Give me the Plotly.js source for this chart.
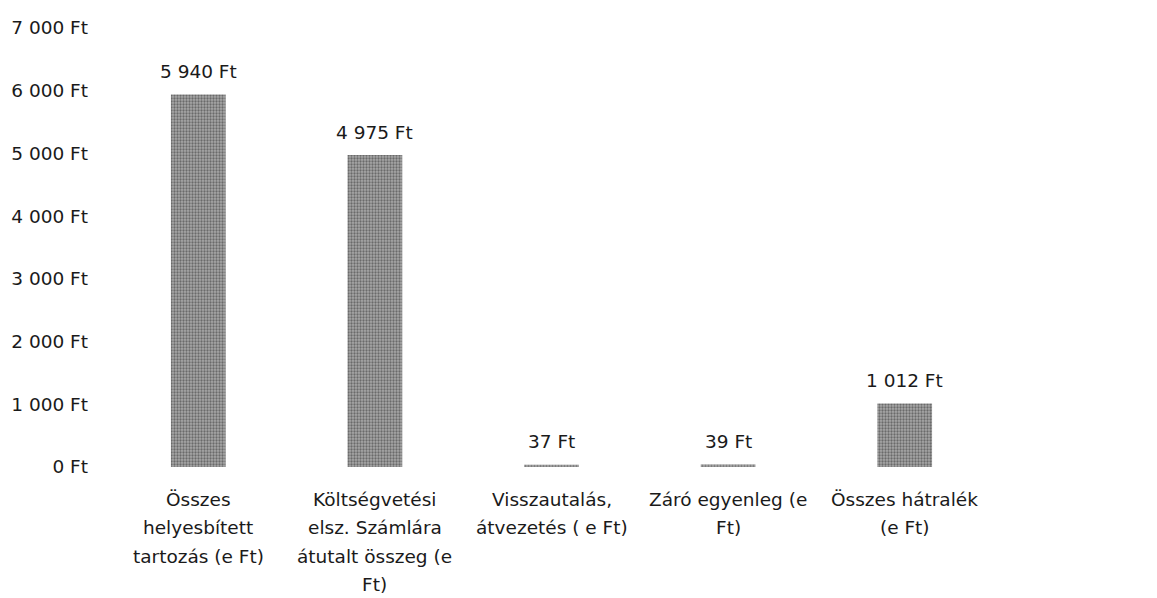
<!DOCTYPE html>
<html><head><meta charset="utf-8">
<script src="https://cdn.plot.ly/plotly-3.0.1.min.js"></script>
<style>body{margin:0;background:#fff}#c{width:1157px;height:598px}</style>
</head><body><div id="c"></div>
<script>
const categoryLines = [
  ["Összes", "helyesbített", "tartozás (e Ft)"],
  ["Költségvetési", "elsz. Számlára", "átutalt összeg (e", "Ft)"],
  ["Visszautalás,", "átvezetés ( e Ft)"],
  ["Záró egyenleg (e", "Ft)"],
  ["Összes hátralék", "(e Ft)"]
];
const categories = categoryLines.map(l => l.join(' '));
const values = [5940, 4975, 37, 39, 1012];
const tickVals = [0, 1000, 2000, 3000, 4000, 5000, 6000, 7000];

const fontFam = "'DejaVu Sans', Verdana, sans-serif";
const txtColor = '#1a1a1a';
const fmt = v => String(v).replace(/\B(?=(\d{3})+(?!\d))/g, ' ') + ' Ft';
const tickText = tickVals.map(fmt);

const data = [{
  type: 'bar',
  x: categories,
  y: values,
  width: 0.31,
  marker: {color: '#8e8e8e', line: {width: 0},
           pattern: {shape: '.', fgcolor: '#6a6a6a', bgcolor: '#a8a8a8', size: 3, solidity: 0.45}},
  hoverinfo: 'none'
}];

const annotations = [];
values.forEach((v, i) => annotations.push({
  x: categories[i], y: v, xref: 'x', yref: 'y',
  text: fmt(v), showarrow: false, yanchor: 'middle', yshift: 23,
  font: {family: fontFam, size: 18.5, color: txtColor}
}));
categoryLines.forEach((lines, i) => lines.forEach((ln, j) => annotations.push({
  x: categories[i], y: 0, xref: 'x', yref: 'paper',
  text: ln, showarrow: false, yanchor: 'middle', yshift: -(32 + j * 28.5),
  font: {family: fontFam, size: 18.5, color: txtColor}
})));

const layout = {
  width: 1157, height: 598,
  margin: {l: 110, r: 164, t: 28, b: 130.5},
  paper_bgcolor: '#fff', plot_bgcolor: '#fff',
  showlegend: false,
  font: {family: fontFam, size: 18.5, color: txtColor},
  xaxis: {showgrid: false, zeroline: false, showline: false, ticks: '', showticklabels: false},
  yaxis: {range: [0, 7000], tickmode: 'array', tickvals: tickVals, ticktext: tickText,
          showgrid: false, zeroline: false, showline: false, ticks: '',
          ticklabelstandoff: 21, tickfont: {family: fontFam, size: 18.5, color: txtColor}},
  annotations: annotations
};
Plotly.newPlot('c', data, layout, {staticPlot: true});
</script></body></html>
